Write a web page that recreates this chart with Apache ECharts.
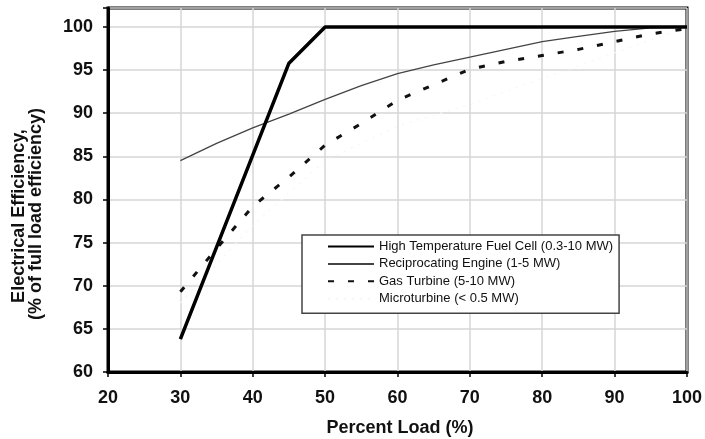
<!DOCTYPE html>
<html>
<head>
<meta charset="utf-8">
<script src="https://cdn.jsdelivr.net/npm/echarts@6/dist/echarts.min.js"></script>
<style>
html,body{margin:0;padding:0;background:#fff;}
#main{width:705px;height:439px;}
</style>
</head>
<body>
<div id="main"></div>
<script>
// ---- data ----
const seriesNames = [
  'High Temperature Fuel Cell (0.3-10 MW)',
  'Reciprocating Engine (1-5 MW)',
  'Gas Turbine (5-10 MW)',
  'Microturbine (< 0.5 MW)'
];
const fuelCellX = [30, 45, 50, 100];
const fuelCellY = [63.8, 95.8, 100, 100];
const recipX = [30, 35, 40, 45, 50, 55, 60, 65, 70, 75, 80, 85, 90, 95, 100];
const recipY = [84.5, 86.5, 88.3, 89.9, 91.6, 93.2, 94.6, 95.6, 96.5, 97.4, 98.3, 98.9, 99.5, 99.9, 100];
const gasX = [30, 35, 40, 45, 50, 55, 60, 65, 70, 75, 80, 85, 90, 95, 100];
const gasY = [69.3, 74.3, 79.2, 82.6, 86.3, 88.8, 91.5, 93.3, 95.1, 96.0, 96.7, 97.4, 98.3, 99.2, 99.8];
const microX = [30, 40, 50, 60, 70, 80, 90, 100];
const microY = [68.0, 77.0, 84.5, 88.5, 91.0, 94.0, 97.0, 100];
const xTicks = [20, 30, 40, 50, 60, 70, 80, 90, 100];
const yTicks = [60, 65, 70, 75, 80, 85, 90, 95, 100];
const xTitle = 'Percent Load (%)';
const yTitle1 = 'Electrical Efficiency,';
const yTitle2 = '(% of full load efficiency)';

function pairs(xs, ys) { return xs.map((x, i) => [x, ys[i]]); }

const chart = echarts.init(document.getElementById('main'), null, {renderer: 'canvas'});
const font = 'Liberation Sans, Arial, sans-serif';
chart.setOption({
  animation: false,
  backgroundColor: '#fff',
  grid: {left: 108, right: 15, top: 8, bottom: 67, show: true, borderColor: '#000', borderWidth: 3, backgroundColor: 'transparent'},
  xAxis: {
    type: 'value', min: xTicks[0], max: xTicks[xTicks.length - 1], interval: 10,
    axisLine: {show: true, lineStyle: {color: '#000', width: 3}},
    axisTick: {show: true, inside: false, length: 5, lineStyle: {color: '#000', width: 1.5}},
    axisLabel: {margin: 17, color: '#111', fontFamily: font, fontWeight: 'bold', fontSize: 18},
    splitLine: {show: true, lineStyle: {color: '#d6d6d6', width: 1.5}}
  },
  yAxis: {
    type: 'value', min: yTicks[0], max: 102.2, interval: 5,
    axisLine: {show: true, lineStyle: {color: '#000', width: 3}},
    axisTick: {show: true, inside: false, length: 5, lineStyle: {color: '#000', width: 1.5}},
    axisLabel: {margin: 15, color: '#111', fontFamily: font, fontWeight: 'bold', fontSize: 18,
      formatter: v => (yTicks.indexOf(Math.round(v * 100) / 100) >= 0 ? String(v) : '')},
    splitLine: {show: true, lineStyle: {color: '#d6d6d6', width: 1.5}}
  },
  legend: {
    left: 302, top: 235, orient: 'vertical',
    padding: [5, 6, 8, 25],
    itemWidth: 46, itemHeight: 14, itemGap: 4.4,
    backgroundColor: '#fff', borderColor: '#444', borderWidth: 1.5, borderRadius: 0,
    itemStyle: {opacity: 0},
    textStyle: {fontFamily: font, fontSize: 13, color: '#111'},
    data: seriesNames
  },
  graphic: [
    {type: 'text', x: 400, y: 428, style: {text: xTitle, font: 'bold 18px ' + font, fill: '#111', align: 'center', verticalAlign: 'middle'}},
    {type: 'text', x: 18.7, y: 216, rotation: Math.PI / 2, style: {text: yTitle1, font: 'bold 18px ' + font, fill: '#111', align: 'center', verticalAlign: 'middle'}},
    {type: 'text', x: 36.5, y: 214, rotation: Math.PI / 2, style: {text: yTitle2, font: 'bold 18px ' + font, fill: '#111', align: 'center', verticalAlign: 'middle'}}
  ],
  series: [
    {name: seriesNames[3], type: 'line', data: pairs(microX, microY), symbol: 'none', z: 1,
      lineStyle: {color: '#f7f7f7', width: 1.5, type: [2, 6]}, itemStyle: {color: '#f7f7f7'}},
    {name: seriesNames[2], type: 'line', data: pairs(gasX, gasY), symbol: 'none', z: 3,
      lineStyle: {color: '#111', width: 3, type: [6, 14]}, itemStyle: {color: '#111'}},
    {name: seriesNames[1], type: 'line', data: pairs(recipX, recipY), symbol: 'none', z: 4,
      lineStyle: {color: '#444', width: 1.3}, itemStyle: {color: '#444'}},
    {name: seriesNames[0], type: 'line', data: pairs(fuelCellX, fuelCellY), symbol: 'none', z: 5,
      lineStyle: {color: '#000', width: 3.5}, itemStyle: {color: '#000'}}
  ]
});
</script>
</body>
</html>
